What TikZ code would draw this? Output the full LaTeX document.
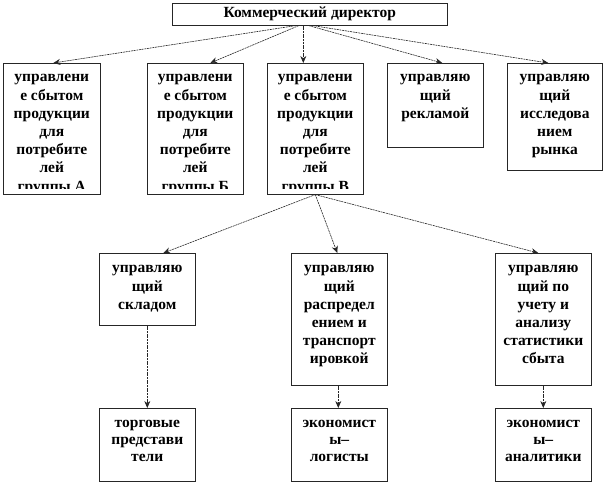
\documentclass[tikz,border=0pt]{standalone}
\usepackage{fontspec}
\setmainfont{Liberation Serif}
\usetikzlibrary{arrows.meta}
\tikzset{
  box/.style={draw=black!85, line width=0.6pt, inner sep=0pt, anchor=north west},
  txt/.style={anchor=north, inner sep=0pt, align=center, font=\fontsize{15.5}{18.2}\selectfont\bfseries},
  txtb/.style={anchor=north, inner sep=0pt, align=center, font=\fontsize{15.5}{17}\selectfont\bfseries},
  conn/.style={draw=black!85, line width=0.6pt, dash pattern=on 2pt off 0.7pt, -{Stealth[length=7pt,width=6pt]}}
}
\begin{document}
\begin{tikzpicture}[x=1pt,y=-1pt]
\useasboundingbox (0,0) rectangle (606,483);
% top
\node[box, minimum width=275pt, minimum height=22pt] (top) at (172,3) {};
\node[inner sep=0pt, font=\fontsize{15.5}{18}\selectfont\bfseries] (toptxt) at (top.center) {Коммерческий директор};
% row 1
\node[box, minimum width=97pt, minimum height=131pt] (a) at (3,63) {};
\node[box, minimum width=96pt, minimum height=131pt] (b) at (147,63) {};
\node[box, minimum width=96pt, minimum height=131pt] (v) at (267,63) {};
\node[box, minimum width=96pt, minimum height=84pt] (r) at (387,63) {};
\node[box, minimum width=95pt, minimum height=107pt] (i) at (507,63) {};
\begin{scope}
\clip ([xshift=1pt,yshift=-1pt]a.north west) rectangle ([xshift=-1pt,yshift=6pt]a.south east);
\node[txt] (at) at ([yshift=-6pt]a.north) {\strut управлени\\\strut е сбытом\\\strut продукции\\\strut для\\\strut потребите\\\strut лей\\\strut группы А};
\end{scope}
\begin{scope}
\clip ([xshift=1pt,yshift=-1pt]b.north west) rectangle ([xshift=-1pt,yshift=6pt]b.south east);
\node[txt] (bt) at ([yshift=-6pt]b.north) {\strut управлени\\\strut е сбытом\\\strut продукции\\\strut для\\\strut потребите\\\strut лей\\\strut группы Б};
\end{scope}
\begin{scope}
\clip ([xshift=1pt,yshift=-1pt]v.north west) rectangle ([xshift=-1pt,yshift=6pt]v.south east);
\node[txt] (vt) at ([yshift=-6pt]v.north) {\strut управлени\\\strut е сбытом\\\strut продукции\\\strut для\\\strut потребите\\\strut лей\\\strut группы В};
\end{scope}
\node[txt] (rt) at ([yshift=-6pt]r.north) {\strut управляю\\\strut щий\\\strut рекламой};
\node[txt] (it) at ([yshift=-6pt]i.north) {\strut управляю\\\strut щий\\\strut исследова\\\strut нием\\\strut рынка};
% row 2
\node[box, minimum width=96pt, minimum height=72pt] (s) at (99,253) {};
\node[box, minimum width=96pt, minimum height=132pt] (d) at (291,253) {};
\node[box, minimum width=96pt, minimum height=132pt] (u) at (495,253) {};
\node[txt] (st) at ([yshift=-7pt]s.north) {\strut управляю\\\strut щий\\\strut складом};
\node[txt] (dt) at ([yshift=-7pt]d.north) {\strut управляю\\\strut щий\\\strut распредел\\\strut ением и\\\strut транспорт\\\strut ировкой};
\node[txt] (ut) at ([yshift=-7pt]u.north) {\strut управляю\\\strut щий по\\\strut учету и\\\strut анализу\\\strut статистики\\\strut сбыта};
% row 3
\node[box, minimum width=96pt, minimum height=73pt] (s3) at (99,408) {};
\node[box, minimum width=96pt, minimum height=73pt] (d3) at (291,408) {};
\node[box, minimum width=96pt, minimum height=73pt] (u3) at (495,408) {};
\node[txtb] (s3t) at ([yshift=-7pt]s3.north) {\strut торговые\\\strut представи\\\strut тели};
\node[txtb] (d3t) at ([yshift=-7pt]d3.north) {\strut экономист\\\strut ы–\\\strut логисты};
\node[txtb] (u3t) at ([yshift=-7pt]u3.north) {\strut экономист\\\strut ы–\\\strut аналитики};
% connectors
\draw[conn] ([xshift=-14pt]top.south) -- ([xshift=1.5pt]a.north);
\draw[conn] ([xshift=-11pt]top.south) -- ([xshift=15pt]b.north);
\draw[conn] ([xshift=-6.5pt]top.south) -- ([xshift=-12pt]v.north);
\draw[conn] ([xshift=-1pt]top.south) -- ([xshift=7pt]r.north);
\draw[conn] ([xshift=3pt]top.south) -- ([xshift=-6.5pt]i.north);
\draw[conn] (v.south) -- ([xshift=16pt]s.north);
\draw[conn] (v.south) -- ([xshift=-2pt]d.north);
\draw[conn] (v.south) -- ([xshift=-5pt]u.north);
\draw[conn] (s.south) -- (s3.north);
\draw[conn] ([xshift=-1pt]d.south) -- ([xshift=-1pt]d3.north);
\draw[conn] (u.south) -- (u3.north);
\end{tikzpicture}
\end{document}
